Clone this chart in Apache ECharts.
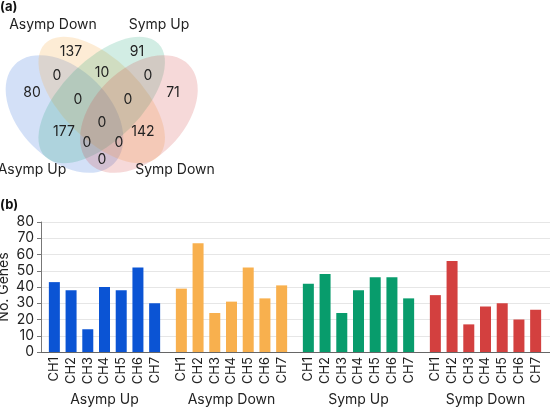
<!DOCTYPE html>
<html>
<head>
<meta charset="utf-8">
<script src="https://cdn.jsdelivr.net/npm/echarts@6/dist/echarts.min.js"></script>
<style>
  html, body { margin: 0; padding: 0; background: #fff; }
  #main { width: 550px; height: 407px; }
</style>
</head>
<body>
<div id="main"></div>
<script>
var channels = ['CH1', 'CH2', 'CH3', 'CH4', 'CH5', 'CH6', 'CH7'];
var groups = ['Asymp Up', 'Asymp Down', 'Symp Up', 'Symp Down'];
var asympUp = [43, 38, 14, 40, 38, 52, 30];
var asympDown = [39, 67, 24, 31, 52, 33, 41];
var sympUp = [42, 48, 24, 38, 46, 46, 33];
var sympDown = [35, 56, 17, 28, 30, 20, 26];
var yTicks = [0, 10, 20, 30, 40, 50, 60, 70, 80];
var groupColors = ['#0b54d4', '#f8b04e', '#089c6c', '#d3403f'];

// venn region counts
var vennCounts = [137, 91, 0, 10, 0, 80, 71, 0, 0, 0, 177, 142, 0, 0, 0];
// where each count sits
var vennSpots = [[71, 52], [137, 52], [57, 76], [102, 73], [148, 76], [32, 93], [173, 93],
  [78, 100], [128, 100], [102, 123], [64, 132], [143, 132], [87, 143], [119, 143], [102, 160]];

var font = 'Inter, "Liberation Sans", sans-serif';
var groupData = [asympUp, asympDown, sympUp, sympDown];

var chart = echarts.init(document.getElementById('main'));

var plotTop = 222, plotBottom = 55;
var grids = [{ left: 41, right: 0, top: plotTop, bottom: plotBottom, outerBoundsMode: 'none', containLabel: false }];
var xAxes = [{
  gridIndex: 0, type: 'value', min: 0, max: 1,
  axisLine: { show: true, lineStyle: { color: '#666', width: 1.2 } },
  axisTick: { show: false }, axisLabel: { show: false }, splitLine: { show: false }
}];
var yAxes = [{
  gridIndex: 0, type: 'value', min: yTicks[0], max: yTicks[yTicks.length - 1], interval: 10,
  name: 'No. Genes', nameLocation: 'middle', nameGap: 30, nameMoveOverlap: false,
  nameTextStyle: { fontSize: 14, color: '#222', fontFamily: font, verticalAlign: 'bottom' },
  axisLine: { show: true, lineStyle: { color: '#777' } },
  axisTick: { show: true, length: 4, lineStyle: { color: '#777' } },
  axisLabel: { fontSize: 14, color: '#222', fontFamily: font, margin: 7 },
  splitLine: { lineStyle: { color: '#e6e6e6' } }
}];
var series = [];

groups.forEach(function (g, i) {
  grids.push({ left: 46 + 127 * i, width: 117, top: plotTop, bottom: plotBottom, outerBoundsMode: 'none', containLabel: false });
  xAxes.push({
    gridIndex: i + 1, type: 'category', data: channels,
    name: g, nameLocation: 'middle', nameGap: 41,
    nameTextStyle: { fontSize: 14, color: '#222', fontFamily: font },
    axisLine: { show: false }, axisTick: { show: false },
    axisLabel: { rotate: 90, fontSize: 13, color: '#222', fontFamily: font, margin: 5, interval: 0 }
  });
  yAxes.push({ gridIndex: i + 1, type: 'value', min: 0, max: 80, show: false, splitLine: { show: false } });
  series.push({
    type: 'bar', name: g, xAxisIndex: i + 1, yAxisIndex: i + 1,
    data: groupData[i], barWidth: 11,
    itemStyle: { color: groupColors[i] }
  });
});

// venn ellipses: blue, orange, green, pink
var ellipses = [
  { cx: 64.5, cy: 114, a: 70, b: 45, rot: -Math.PI / 4, color: 'rgba(11,84,212,0.18)' },
  { cx: 101.7, cy: 100, a: 80, b: 40, rot: -Math.PI / 4, color: 'rgba(248,176,78,0.24)' },
  { cx: 101.7, cy: 100, a: 80, b: 40, rot: Math.PI / 4, color: 'rgba(8,156,108,0.18)' },
  { cx: 138.9, cy: 114, a: 70, b: 45, rot: Math.PI / 4, color: 'rgba(211,64,63,0.2)' }
];
var graphics = ellipses.map(function (e) {
  return {
    type: 'group', x: e.cx, y: e.cy, rotation: e.rot,
    children: [{
      type: 'circle', shape: { cx: 0, cy: 0, r: e.b }, scaleX: e.a / e.b,
      style: { fill: e.color }
    }]
  };
});
vennCounts.forEach(function (c, i) {
  graphics.push({
    type: 'text', x: vennSpots[i][0], y: vennSpots[i][1],
    style: { text: String(c), fontSize: 14, fontFamily: font, fill: '#222', textAlign: 'center', textVerticalAlign: 'middle' }
  });
});
[['Asymp Down', 53, 25], ['Symp Up', 159, 25], ['Asymp Up', 32, 170], ['Symp Down', 175, 170]].forEach(function (t) {
  graphics.push({
    type: 'text', x: t[1], y: t[2],
    style: { text: t[0], fontSize: 14, fontFamily: font, fill: '#222', textAlign: 'center', textVerticalAlign: 'middle' }
  });
});
graphics.push({ type: 'text', x: 0, y: 7, style: { text: '(a)', fontSize: 13, fontWeight: 'bold', fontFamily: font, fill: '#111', textVerticalAlign: 'middle' } });
graphics.push({ type: 'text', x: 0, y: 205, style: { text: '(b)', fontSize: 13, fontWeight: 'bold', fontFamily: font, fill: '#111', textVerticalAlign: 'middle' } });

chart.setOption({
  animation: false,
  backgroundColor: '#fff',
  grid: grids,
  xAxis: xAxes,
  yAxis: yAxes,
  series: series,
  graphic: graphics
});
</script>
</body>
</html>
